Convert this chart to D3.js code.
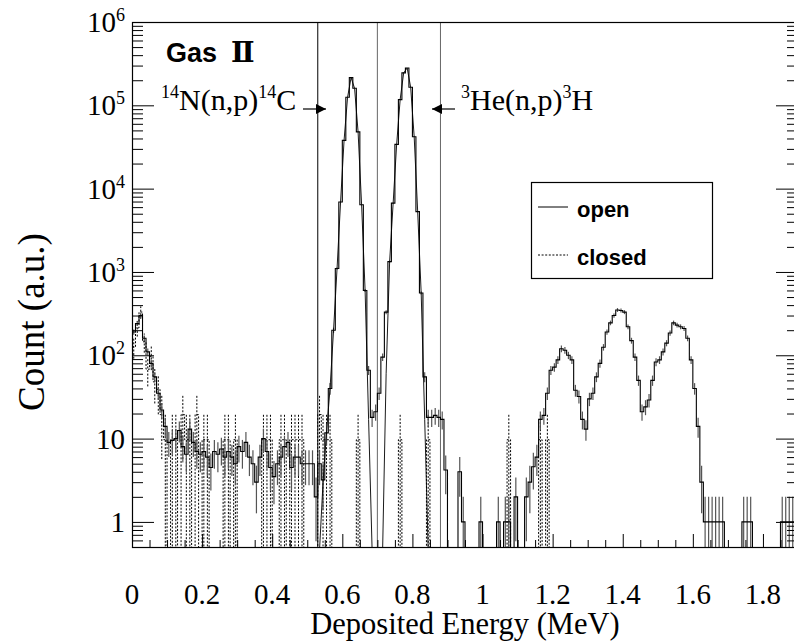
<!DOCTYPE html>
<html><head><meta charset="utf-8">
<script src="https://cdn.jsdelivr.net/npm/d3@7/dist/d3.min.js"></script>
<style>body{margin:0;background:#fff}svg{display:block}</style>
</head><body>
<script>
// ---- data ----
const binWidth = 0.01; // MeV
const openCounts = [
 190,240,300,160,110,80,55,35,22,14,
 9,9.5,10,12.5,8,6.5,13,9,7,6.5,
 7,6,4.5,7,6.5,7.5,6,7,6,5,
 8,7,9,6,5,3,6,10,7,4.5,
 3.5,5,6,8,9,4.5,6,6,5,5,
 5,5,2,5,3.2,11.7,40,200,1100,6900,
 38000,125000,215000,160000,48000,6400,600,66,18,21,
 35,95,330,1330,6700,34000,117000,245000,280000,165000,
 42000,5300,560,55,18,18,19,18,17,4.2,
 0,0,0,4,1,0,0,0,0,1,
 0,0,0,0,1,0,1,1,0,2,
 0,0,2,3,4.6,6,17,19,35,66,
 72,88,120,115,100,88,38,32,17,13,
 30,35,55,80,125,190,245,300,350,345,
 330,220,150,95,50,21,24,29,50,83,
 88,110,140,185,245,230,220,210,160,88,
 40,14,3,1,1,1,1,1,1,0,
 0,0,0,0,1,1,1,0,0,0,
 0,0,0,0,0,1,1,1,1,1];
const closedUnit = 9.7; // a.u. per count (closed run)
const closedCounts = [
 126,213,330,145,68,97,48,39,19.4,9.7,
 0,9.7,9.7,0,19.4,9.7,9.7,0,19.4,0,
 9.7,9.7,0,0,0,0,9.7,9.7,0,9.7,
 0,0,0,0,0,0,0,9.7,9.7,9.7,
 0,0,9.7,9.7,0,9.7,9.7,9.7,9.7,0,
 0,0,0,19.4,9.7,9.7,9.7,0,0,0,
 0,0,0,0,9.7,0,0,0,0,0,
 0,0,0,0,0,0,9.7,0,0,0,
 0,0,0,0,9.7,0,0,0,0,0,
 0,0,0,0,0,0,0,0,0,0,
 0,0,0,0,0,0,0,9.7,0,0,
 0,0,0,0,0,0,9.7,0,9.7,0,
 0,0,0,0,0,0,0,0,0,0,
 0,0,0,0,0,0,0,0,0,0,
 0,0,0,0,0,0,0,0,0,0,
 0,0,0,0,0,0,0,0,0,0,
 0,0,0,0,0,0,0,0,0,0,
 0,0,0,0,0,0,0,0,0,0,
 0,0,0,0,0,0,0,0,0,0];
const peakLineFirstBin = 53;
const peakLineValues = [0,3,12,40,200,1100,6900,38000,125000,215000,160000,48000,6400,600,17,0,
 0,0,0,60,1330,6700,34000,117000,245000,280000,165000,42000,5300,560,17,0];
const markerLines = [0.53, 0.70, 0.88];
const markerColors = ["#000","#666","#666"];
const xTickValues = [0,0.2,0.4,0.6,0.8,1,1.2,1.4,1.6,1.8];
const xTickLabels = ["0","0.2","0.4","0.6","0.8","1","1.2","1.4","1.6","1.8"];
const yDecades = [0,1,2,3,4,5,6];
const legendLabels = ["open","closed"];

// ---- layout ----
const W = 794, H = 641;
const L = 132, R = 798, T = 22, B = 547;
const x = d3.scaleLinear().domain([0, 1.9]).range([L, R]);
const y = d3.scaleLog().domain([0.5, 1e6]).range([B, T]);
const yv = v => v > 0 ? y(v) : B + 3;

const svg = d3.select("body").append("svg").attr("width", W).attr("height", H);
svg.append("defs").append("clipPath").attr("id","clip")
  .append("rect").attr("x", L).attr("y", T).attr("width", R - L).attr("height", B - T);
const plot = svg.append("g").attr("clip-path","url(#clip)");

// marker lines
plot.selectAll("line.marker").data(markerLines).join("line")
  .attr("x1", d => x(d)).attr("x2", d => x(d)).attr("y1", T).attr("y2", B)
  .attr("stroke", (d,i) => markerColors[i]).attr("stroke-width", 1);

// step histogram helper
function stepPoints(arr) {
  const pts = arr.map((v,i) => [i*binWidth, v]);
  pts.push([arr.length*binWidth, arr[arr.length-1]]);
  return pts;
}
const stepLine = d3.line().x(d => x(d[0])).y(d => yv(d[1])).curve(d3.curveStepAfter);

// closed: dotted histogram + dotted error bars
plot.append("path").attr("d", stepLine(stepPoints(closedCounts)))
  .attr("fill","none").attr("stroke","#000").attr("stroke-width",1).attr("stroke-dasharray","2,1.6");
plot.selectAll("line.cerr").data(closedCounts.map((v,i)=>({v,i})).filter(d=>d.v>0)).join("line")
  .attr("x1", d => x((d.i+0.5)*binWidth)).attr("x2", d => x((d.i+0.5)*binWidth))
  .attr("y1", d => yv(d.v - Math.sqrt(d.v*closedUnit))).attr("y2", d => yv(d.v + Math.sqrt(d.v*closedUnit)))
  .attr("stroke","#000").attr("stroke-width",1).attr("stroke-dasharray","2,1.6");

// open: error bars
plot.selectAll("line.oerr").data(openCounts.map((v,i)=>({v,i})).filter(d=>d.v>0)).join("line")
  .attr("x1", d => x((d.i+0.5)*binWidth)).attr("x2", d => x((d.i+0.5)*binWidth))
  .attr("y1", d => yv(d.v - Math.sqrt(d.v))).attr("y2", d => yv(d.v + Math.sqrt(d.v)))
  .attr("stroke","#555").attr("stroke-width",1.2);

// peak polyline
const polyLine = d3.line().x(d => x(d[0])).y(d => yv(d[1]));
plot.append("path")
  .attr("d", polyLine(peakLineValues.map((v,k) => [(peakLineFirstBin+k+0.5)*binWidth, v])))
  .attr("fill","none").attr("stroke","#000").attr("stroke-width",0.9);

// open histogram
plot.append("path").attr("d", stepLine(stepPoints(openCounts)))
  .attr("fill","none").attr("stroke","#000").attr("stroke-width",1.1);

// ---- axes ----
const majorY = yDecades.map(k => Math.pow(10,k));
const minorY = [];
for (let k = -1; k < 6; k++) for (let m = 2; m <= 9; m++) { const v = m*Math.pow(10,k); if (v >= 0.5 && v <= 1e6) minorY.push(v); }
const axG = svg.append("g");
axG.append("g").attr("transform",`translate(${L},0)`)
  .call(d3.axisRight(y).tickValues(majorY).tickSize(22).tickFormat(""));
axG.append("g").attr("transform",`translate(${L},0)`)
  .call(d3.axisRight(y).tickValues(minorY).tickSize(11).tickFormat(""));
axG.append("g").attr("transform",`translate(${R},0)`)
  .call(d3.axisLeft(y).tickValues(majorY).tickSize(22).tickFormat(""));
axG.append("g").attr("transform",`translate(${R},0)`)
  .call(d3.axisLeft(y).tickValues(minorY).tickSize(11).tickFormat(""));
const minorX = d3.range(0, 38).map(i => i*0.05).filter(v => Math.abs(v/0.2 - Math.round(v/0.2)) > 1e-6);
axG.append("g").attr("transform",`translate(0,${B})`)
  .call(d3.axisTop(x).tickValues(xTickValues).tickSize(13).tickFormat(""));
axG.append("g").attr("transform",`translate(0,${B})`)
  .call(d3.axisTop(x).tickValues(minorX).tickSize(7).tickFormat(""));
axG.selectAll(".domain").remove();
axG.selectAll(".tick line").attr("stroke","#000").attr("stroke-width",1);
// frame
svg.append("rect").attr("x",L+0.5).attr("y",T+0.5).attr("width",R-L).attr("height",B-T)
  .attr("fill","none").attr("stroke","#000").attr("stroke-width",1.2);

const serif = "'Liberation Serif','Times New Roman',serif";
const sans = "'Liberation Sans',Arial,sans-serif";

// y tick labels
const yl = svg.append("g").attr("font-family", serif).attr("font-size", 29).attr("text-anchor","end");
yDecades.forEach(k => {
  const t = yl.append("text").attr("x", 125).attr("y", y(Math.pow(10,k)) + 10);
  if (k === 0) t.text("1");
  else if (k === 1) t.text("10");
  else { t.append("tspan").text("10"); t.append("tspan").attr("font-size",18).attr("dy",-11).text(k); }
});
// x tick labels
svg.append("g").attr("font-family", serif).attr("font-size", 29).attr("text-anchor","middle")
  .selectAll("text").data(xTickValues).join("text")
  .attr("x", d => x(d)).attr("y", 604).text((d,i) => xTickLabels[i]);

// axis titles
svg.append("text").attr("x", (L+R)/2).attr("y", 634).attr("text-anchor","middle")
  .attr("font-family", serif).attr("font-size", 30.5).text("Deposited Energy (MeV)");
svg.append("text").attr("transform", `translate(44,322) rotate(-90)`).attr("text-anchor","middle")
  .attr("font-family", serif).attr("font-size", 37).text("Count (a.u.)");

// annotations
svg.append("text").attr("x",166).attr("y",62).attr("font-family",sans).attr("font-weight","bold")
  .attr("font-size",27).text("Gas");
svg.append("text").attr("x",231).attr("y",62).attr("font-family","'DejaVu Serif',serif")
  .attr("font-weight","bold").attr("font-size",28).text("Ⅱ");

function reaction(xp, parts) {
  const t = svg.append("text").attr("x", xp).attr("y", 110).attr("font-family", serif).attr("font-size", 30);
  parts.forEach(p => {
    if (p.sup) t.append("tspan").attr("font-size",18).attr("dy",-12).text(p.s);
    else t.append("tspan").attr("dy", p.after ? 12 : 0).text(p.s);
  });
}
reaction(161, [{sup:true,s:"14"},{after:true,s:"N(n,p)"},{sup:true,s:"14"},{after:true,s:"C"}]);
reaction(461, [{sup:true,s:"3"},{after:true,s:"He(n,p)"},{sup:true,s:"3"},{after:true,s:"H"}]);

// arrows
function arrow(x0, x1, yy) {
  svg.append("line").attr("x1",x0).attr("x2",x1).attr("y1",yy).attr("y2",yy).attr("stroke","#000").attr("stroke-width",1.2);
  const dir = Math.sign(x1 - x0), hl = 10, hw = 5;
  svg.append("path").attr("d",`M${x1},${yy} L${x1-dir*hl},${yy-hw} L${x1-dir*hl},${yy+hw} Z`).attr("fill","#000");
}
arrow(303, 326, 109);
arrow(455, 432, 109);

// legend
const lg = svg.append("g");
lg.append("rect").attr("x",531.5).attr("y",182.5).attr("width",181).attr("height",96)
  .attr("fill","#fff").attr("stroke","#000").attr("stroke-width",1.2);
const legY = [207, 255];
legendLabels.forEach((lab,i) => {
  lg.append("line").attr("x1",538).attr("x2",568).attr("y1",legY[i]).attr("y2",legY[i])
    .attr("stroke","#000").attr("stroke-width",1).attr("stroke-dasharray", i ? "2,1.6" : null);
  lg.append("text").attr("x",577).attr("y",legY[i]+9.5).attr("font-family",sans).attr("font-weight","bold")
    .attr("font-size",22).text(lab);
});
</script>
</body></html>
